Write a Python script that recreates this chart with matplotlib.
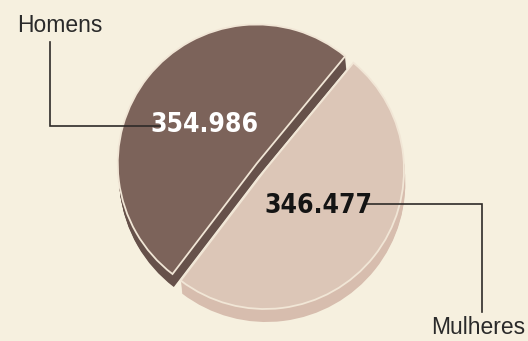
import matplotlib
matplotlib.use('Agg')
import matplotlib.pyplot as plt

# ---- data ----
labels = ['Homens', 'Mulheres']
values = [354986, 346477]
value_labels = ['354.986', '346.477']

# ---- style ----
W, H = 528, 341
bg = '#f6f0df'
top_colors = ['#7c635a', '#dcc6b7']
side_colors = ['#66514a', '#d7bdae']
edge_light = '#f1e6d6'

fig = plt.figure(figsize=(W / 100, H / 100), dpi=100)
fig.patch.set_facecolor(bg)
ax = fig.add_axes([0, 0, 1, 1])
ax.set_facecolor(bg)

def py(y):
    return H - y

cx, cy, R = 265, py(170), 139
start = 50.5
explode = [10.5, 0.0]        # absolute data units

# depth (side faces)
depth = 13
for d in range(1, depth + 1):
    ax.pie(values, center=(cx + 0.1 * d, cy - d), radius=R,
           startangle=start, explode=explode, colors=side_colors,
           wedgeprops=dict(linewidth=0), frame=False)
# top faces
ax.pie(values, center=(cx, cy), radius=R, startangle=start, explode=explode,
       colors=top_colors, wedgeprops=dict(edgecolor=edge_light, linewidth=1.3),
       frame=False)

ax.set_xlim(0, W)
ax.set_ylim(0, H)
ax.set_aspect('equal')
ax.axis('off')

# ---- overlay for labels (pixel coords) ----
ax2 = fig.add_axes([0, 0, 1, 1], facecolor='none')
ax2.set_xlim(0, W)
ax2.set_ylim(H, 0)
ax2.axis('off')

line_kw = dict(color='#2e2a28', linewidth=1.2, solid_joinstyle='miter')
ax2.plot([50, 50, 160], [42, 126, 126], **line_kw)
ax2.plot([366, 482, 482], [204, 204, 312], **line_kw)

lab_font = ['Liberation Sans', 'DejaVu Sans']
num_font = ['DejaVu Sans']
ax2.text(60, 25, labels[0], ha='center', va='center', fontsize=16.5,
         color='#2a2a2a', family=lab_font)
ax2.text(478, 328, labels[1], ha='center', va='center', fontsize=16.5,
         color='#2a2a2a', family=lab_font)
ax2.text(205, 125, value_labels[0], ha='center', va='center', fontsize=19,
         fontweight='bold', fontstretch='condensed', color='white', family=num_font)
ax2.text(318, 206, value_labels[1], ha='center', va='center', fontsize=19,
         fontweight='bold', fontstretch='condensed', color='#141414', family=num_font)

fig.savefig('out.png', dpi=100, facecolor=bg)
